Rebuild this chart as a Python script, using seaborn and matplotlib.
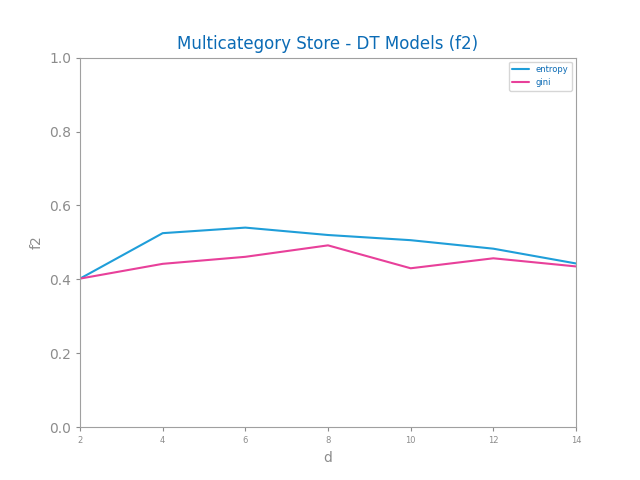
import matplotlib
matplotlib.use("Agg")
import matplotlib.pyplot as plt
import seaborn as sns
import pandas as pd

depths = [2, 4, 6, 8, 10, 12, 14]
entropy_f2 = [0.402, 0.525, 0.540, 0.520, 0.506, 0.483, 0.443]
gini_f2 = [0.402, 0.442, 0.461, 0.492, 0.430, 0.457, 0.435]

df = pd.DataFrame({'d': depths * 2,
                   'f2': entropy_f2 + gini_f2,
                   'criterion': ['entropy'] * len(depths) + ['gini'] * len(depths)})

sns.set_style("white")
grey = '#8c8c8c'
fig, ax = plt.subplots(figsize=(6.4, 4.8), dpi=100)
sns.lineplot(data=df, x='d', y='f2', hue='criterion', ax=ax,
             palette={'entropy': '#1f9ed9', 'gini': '#e8409a'}, linewidth=1.5)

ax.set_title('Multicategory Store - DT Models (f2)', color='#0b6bb5', fontsize=12)
ax.set_xlabel('d', color=grey, fontsize=10)
ax.set_ylabel('f2', color=grey, fontsize=10)
ax.set_xlim(2, 14)
ax.set_ylim(0, 1)
ax.set_xticks(depths)
ax.tick_params(axis='x', labelsize=6, colors=grey, length=3)
ax.tick_params(axis='y', labelsize=10, colors=grey, length=3)
ax.tick_params(bottom=True, left=True)
for s in ax.spines.values():
    s.set_color('#a0a0a0')
    s.set_visible(True)

leg = ax.legend(loc='upper right', fontsize=6, title=None)
for t in leg.get_texts():
    t.set_color('#0b6bb5')

plt.savefig('out.png', dpi=100)
